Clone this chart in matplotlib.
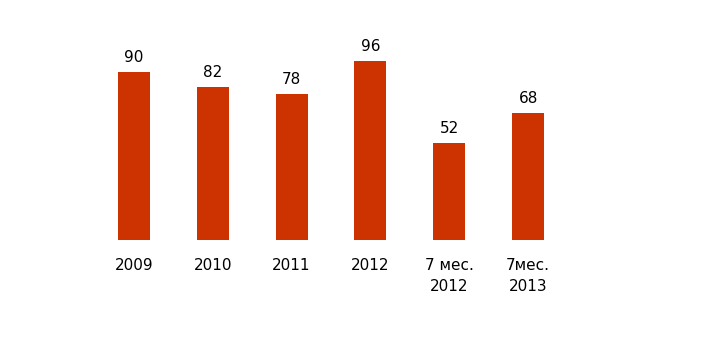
import matplotlib.pyplot as plt
import numpy as np

# данные
categories = ['2009', '2010', '2011', '2012', '7 мес.\n2012', '7мес.\n2013']
values = [90, 82, 78, 96, 52, 68]
bar_color = '#CC3300'

fig = plt.figure(figsize=(7.2, 3.6), dpi=100)
ax = fig.add_axes([94.5 / 720, 120 / 360, 473 / 720, 186.7 / 360])

x = np.arange(len(categories))
bars = ax.bar(x, values, width=0.405, color=bar_color)

for xi, v in zip(x, values):
    ax.annotate(str(v), (xi, v), xytext=(0, 5), textcoords='offset points',
                ha='center', va='bottom', fontsize=11, color='black')

ax.set_xlim(-0.5, len(categories) - 0.5)
ax.set_ylim(0, 100)
ax.set_xticks(x)
ax.set_xticklabels(categories, fontsize=11, linespacing=1.5)
ax.tick_params(axis='x', length=0, pad=13)
ax.set_yticks([])
for s in ax.spines.values():
    s.set_visible(False)

fig.savefig('out.png', dpi=100)
